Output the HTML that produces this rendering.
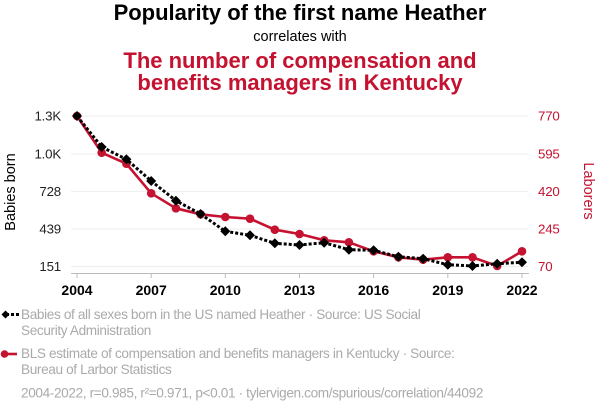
<!DOCTYPE html>
<html><head><meta charset="utf-8"><style>
html,body{margin:0;padding:0;background:#fff;}
svg{display:block;font-family:"Liberation Sans",Arial,sans-serif;}
</style></head><body>
<svg width="600" height="414" viewBox="0 0 600 414" xmlns="http://www.w3.org/2000/svg">
<rect width="600" height="414" fill="#fff"/>
<text x="300" y="20" text-anchor="middle" font-size="22" font-weight="bold" fill="#000">Popularity of the first name Heather</text>
<text x="300" y="41" text-anchor="middle" font-size="14.5" fill="#000">correlates with</text>
<text x="300" y="68" text-anchor="middle" font-size="22" font-weight="bold" fill="#c41230">The number of compensation and</text>
<text x="300" y="90" text-anchor="middle" font-size="22" font-weight="bold" fill="#c41230">benefits managers in Kentucky</text>

<g stroke="#f0f0f0" stroke-width="1.2">
<line x1="71" x2="528" y1="116" y2="116"/>
<line x1="71" x2="528" y1="154" y2="154"/>
<line x1="71" x2="528" y1="191.5" y2="191.5"/>
<line x1="71" x2="528" y1="229" y2="229"/>
<line x1="71" x2="528" y1="266.5" y2="266.5"/>
</g>

<g font-size="13.3" fill="#222" text-anchor="end" letter-spacing="-0.2">
<text x="61" y="120.7">1.3K</text>
<text x="61" y="158.7">1.0K</text>
<text x="61" y="196.2">728</text>
<text x="61" y="233.7">439</text>
<text x="61" y="271.2">151</text>
</g>
<g font-size="13.3" fill="#c41230" letter-spacing="-0.2">
<text x="538" y="120.7">770</text>
<text x="538" y="158.7">595</text>
<text x="538" y="196.2">420</text>
<text x="538" y="233.7">245</text>
<text x="538" y="271.2">70</text>
</g>

<text transform="translate(15,192) rotate(-90)" text-anchor="middle" font-size="14.5" fill="#000">Babies born</text>
<text transform="translate(584,191) rotate(90)" text-anchor="middle" font-size="14.5" fill="#c41230">Laborers</text>

<line x1="71" x2="529" y1="273.5" y2="273.5" stroke="#bbb" stroke-width="1"/>
<g stroke="#bbb" stroke-width="1">
<line x1="77" x2="77" y1="273.5" y2="278"/>
<line x1="151.2" x2="151.2" y1="273.5" y2="278"/>
<line x1="225.3" x2="225.3" y1="273.5" y2="278"/>
<line x1="299.5" x2="299.5" y1="273.5" y2="278"/>
<line x1="373.6" x2="373.6" y1="273.5" y2="278"/>
<line x1="447.8" x2="447.8" y1="273.5" y2="278"/>
<line x1="522" x2="522" y1="273.5" y2="278"/>
</g>
<g font-size="14" font-weight="bold" fill="#000" text-anchor="middle">
<text x="77" y="295">2004</text>
<text x="151.2" y="295">2007</text>
<text x="225.3" y="295">2010</text>
<text x="299.5" y="295">2013</text>
<text x="373.6" y="295">2016</text>
<text x="447.8" y="295">2019</text>
<text x="522" y="295">2022</text>
</g>

<!-- red series -->
<polyline fill="none" stroke="#c41230" stroke-width="2.6" stroke-linejoin="round"
points="77,116 101.7,152.7 126.4,163.7 151.2,193.3 175.9,208.3 200.6,214.3 225.3,217 250,218.7 274.8,229.7 299.5,234 324.2,240.3 348.9,242.3 373.6,251.3 398.4,257.3 423.1,259.7 447.8,257.3 472.5,257.3 497.2,266 522,251.3"/>
<g fill="#c41230">
<circle cx="77" cy="116" r="4.3"/><circle cx="101.7" cy="152.7" r="4.3"/><circle cx="126.4" cy="163.7" r="4.3"/><circle cx="151.2" cy="193.3" r="4.3"/><circle cx="175.9" cy="208.3" r="4.3"/><circle cx="200.6" cy="214.3" r="4.3"/><circle cx="225.3" cy="217" r="4.3"/><circle cx="250" cy="218.7" r="4.3"/><circle cx="274.8" cy="229.7" r="4.3"/><circle cx="299.5" cy="234" r="4.3"/><circle cx="324.2" cy="240.3" r="4.3"/><circle cx="348.9" cy="242.3" r="4.3"/><circle cx="373.6" cy="251.3" r="4.3"/><circle cx="398.4" cy="257.3" r="4.3"/><circle cx="423.1" cy="259.7" r="4.3"/><circle cx="447.8" cy="257.3" r="4.3"/><circle cx="472.5" cy="257.3" r="4.3"/><circle cx="497.2" cy="266" r="4.3"/><circle cx="522" cy="251.3" r="4.3"/>
</g>

<!-- black series -->
<polyline fill="none" stroke="#000" stroke-width="3" stroke-dasharray="3,2"
points="77,116 101.7,147 126.4,159.3 151.2,181 175.9,200.7 200.6,214 225.3,231.3 250,235.3 274.8,243.3 299.5,245 324.2,242.7 348.9,249.7 373.6,250.3 398.4,256.7 423.1,258.7 447.8,264.7 472.5,266 497.2,263.7 522,262.3"/>
<g fill="#000">
<path d="M77 111l5 5l-5 5l-5 -5z"/>
<path d="M101.7 142l5 5l-5 5l-5 -5z"/>
<path d="M126.4 154.3l5 5l-5 5l-5 -5z"/>
<path d="M151.2 176l5 5l-5 5l-5 -5z"/>
<path d="M175.9 195.7l5 5l-5 5l-5 -5z"/>
<path d="M200.6 209l5 5l-5 5l-5 -5z"/>
<path d="M225.3 226.3l5 5l-5 5l-5 -5z"/>
<path d="M250 230.3l5 5l-5 5l-5 -5z"/>
<path d="M274.8 238.3l5 5l-5 5l-5 -5z"/>
<path d="M299.5 240l5 5l-5 5l-5 -5z"/>
<path d="M324.2 237.7l5 5l-5 5l-5 -5z"/>
<path d="M348.9 244.7l5 5l-5 5l-5 -5z"/>
<path d="M373.6 245.3l5 5l-5 5l-5 -5z"/>
<path d="M398.4 251.7l5 5l-5 5l-5 -5z"/>
<path d="M423.1 253.7l5 5l-5 5l-5 -5z"/>
<path d="M447.8 259.7l5 5l-5 5l-5 -5z"/>
<path d="M472.5 261l5 5l-5 5l-5 -5z"/>
<path d="M497.2 258.7l5 5l-5 5l-5 -5z"/>
<path d="M522 257.3l5 5l-5 5l-5 -5z"/>
</g>

<!-- legend -->
<line x1="6" x2="19" y1="314.5" y2="314.5" stroke="#000" stroke-width="3" stroke-dasharray="3,2"/>
<path d="M5.5 310.5l4 4l-4 4l-4 -4z" fill="#000"/>
<line x1="4" x2="17" y1="354" y2="354" stroke="#c41230" stroke-width="2.6"/>
<circle cx="4.5" cy="354" r="3.8" fill="#c41230"/>

<g font-size="13.6" fill="#aaa" letter-spacing="-0.36">
<text x="21" y="319">Babies of all sexes born in the US named Heather · Source: US Social</text>
<text x="21" y="335">Security Administration</text>
<text x="21" y="358">BLS estimate of compensation and benefits managers in Kentucky · Source:</text>
<text x="21" y="374">Bureau of Larbor Statistics</text>
<text x="21" y="397.5">2004-2022, r=0.985, r²=0.971, p&lt;0.01 · tylervigen.com/spurious/correlation/44092</text>
</g>
</svg>
</body></html>
